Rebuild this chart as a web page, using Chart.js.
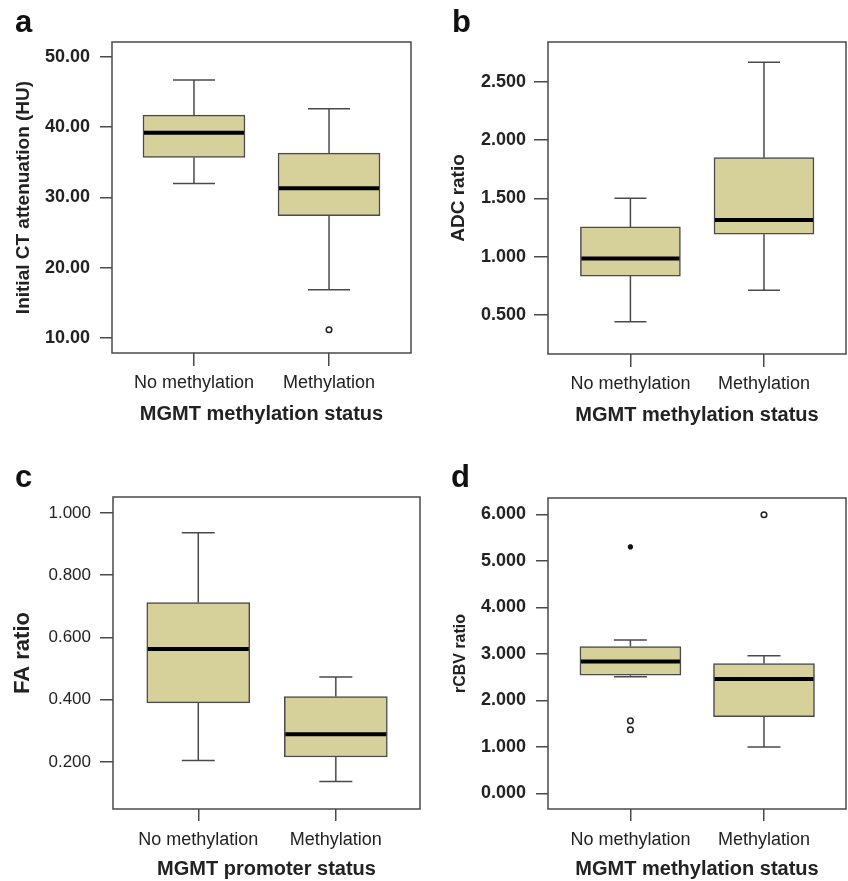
<!DOCTYPE html>
<html>
<head>
<meta charset="utf-8">
<script src="https://cdn.jsdelivr.net/npm/chart.js@4.4.1/dist/chart.umd.min.js"></script>
<style>
  body { margin: 0; background: #fff; }
  #wrap { position: relative; width: 848px; height: 881px; }
  canvas { position: absolute; }
  .tag { position: absolute; font: bold 31px "Liberation Sans", Arial, sans-serif; line-height: 32px; color: #111; }
</style>
</head>
<body>
<div id="wrap">
  <canvas id="pa" width="424" height="440" style="left:0;top:0"></canvas>
  <canvas id="pb" width="424" height="440" style="left:424px;top:0"></canvas>
  <canvas id="pc" width="424" height="441" style="left:0;top:440px"></canvas>
  <canvas id="pd" width="424" height="441" style="left:424px;top:440px"></canvas>
  <div class="tag" style="left:15px;top:6px">a</div>
  <div class="tag" style="left:452px;top:6px">b</div>
  <div class="tag" style="left:15px;top:461px">c</div>
  <div class="tag" style="left:451px;top:461px">d</div>
</div>
<script>
const categories = ['No methylation', 'Methylation']

// a - initial CT attenuation
const ctLow = [32.0, 16.9]
const ctQ1 = [35.7, 27.4]
const ctMedian = [39.2, 31.3]
const ctQ3 = [41.7, 36.3]
const ctHigh = [46.7, 42.6]
const ctOutliers = [[], [11.2]]
const ctTicks = [10, 20, 30, 40, 50]

// b - ADC ratio
const adcLow = [0.443, 0.712]
const adcQ1 = [0.834, 1.192]
const adcMedian = [0.985, 1.315]
const adcQ3 = [1.255, 1.849]
const adcHigh = [1.50, 2.666]
const adcOutliers = [[], []]
const adcTicks = [0.5, 1.0, 1.5, 2.0, 2.5]

// c - FA ratio
const faLow = [0.205, 0.137]
const faQ1 = [0.390, 0.216]
const faMedian = [0.563, 0.289]
const faQ3 = [0.712, 0.410]
const faHigh = [0.936, 0.473]
const faOutliers = [[], []]
const faTicks = [0.2, 0.4, 0.6, 0.8, 1.0]

// d - rCBV ratio
const rcbvLow = [2.51, 1.0]
const rcbvQ1 = [2.54, 1.65]
const rcbvMedian = [2.835, 2.46]
const rcbvQ3 = [3.157, 2.79]
const rcbvHigh = [3.30, 2.96]
const rcbvOutliers = [[1.56, 1.37], [5.99]]
const rcbvExtremes = [[5.30], []]
const rcbvTicks = [0, 1, 2, 3, 4, 5, 6]

const FONT = '"Liberation Sans", Arial, sans-serif'
const LINE = '#4a4a4a'

const boxPlugin = {
    id: 'boxplot',
    beforeDatasetsDraw(chart) {
        const o = chart.options.plugins.boxplot
        const ds = chart.data.datasets[0]
        const y = chart.scales.y
        const ctx = chart.ctx
        ctx.save()
        ctx.strokeStyle = LINE
        ctx.lineWidth = 1.5
        chart.getDatasetMeta(0).data.forEach((bar, i) => {
            const c = o.cap / 2
            const pts = [[ds.q3[i], ds.high[i]], [ds.q1[i], ds.low[i]]]
            pts.forEach(([from, to]) => {
                const y0 = y.getPixelForValue(from), y1 = y.getPixelForValue(to)
                ctx.beginPath()
                ctx.moveTo(bar.x, y0); ctx.lineTo(bar.x, y1)
                ctx.moveTo(bar.x - c, y1); ctx.lineTo(bar.x + c, y1)
                ctx.stroke()
            })
        })
        ctx.restore()
    },
    afterDatasetsDraw(chart) {
        const ds = chart.data.datasets[0]
        const y = chart.scales.y
        const ctx = chart.ctx
        const a = chart.chartArea
        ctx.save()
        ctx.strokeStyle = '#000'
        ctx.lineWidth = 4
        chart.getDatasetMeta(0).data.forEach((bar, i) => {
            const ym = y.getPixelForValue(ds.median[i])
            const h = bar.width / 2 - 1
            ctx.beginPath()
            ctx.moveTo(bar.x - h, ym); ctx.lineTo(bar.x + h, ym)
            ctx.stroke()
        })
        ctx.strokeStyle = LINE
        ctx.lineWidth = 1.5
        ctx.strokeRect(a.left, a.top, a.right - a.left, a.bottom - a.top)
        ctx.restore()
    }
}

function boxChart(id, s, p) {
    const points = (list) => list.flatMap((vals, i) => vals.map(v => ({x: i, y: v})))
    const datasets = [{
        type: 'bar',
        data: categories.map((c, i) => ({x: i, y: [s.q1[i], s.q3[i]]})),
        low: s.low, q1: s.q1, median: s.median, q3: s.q3, high: s.high,
        backgroundColor: '#d6d09a',
        borderColor: LINE,
        borderWidth: 1.5,
        borderSkipped: false,
        barThickness: p.box
    }, {
        type: 'scatter',
        data: points(s.outliers),
        pointStyle: 'circle',
        pointRadius: 2.8,
        borderWidth: 1.5,
        borderColor: '#222',
        backgroundColor: '#fff'
    }]
    if (s.extremes) datasets.push({
        type: 'scatter',
        data: points(s.extremes),
        pointStyle: 'star',
        pointRadius: 2.6,
        borderWidth: 2,
        borderColor: '#111',
        backgroundColor: '#111'
    })
    new Chart(document.getElementById(id), {
        type: 'bar',
        data: {datasets: datasets},
        plugins: [boxPlugin],
        options: {
            responsive: false,
            animation: false,
            devicePixelRatio: 1,
            layout: {autoPadding: false, padding: {top: p.top, right: p.right, left: 0, bottom: 0}},
            plugins: {legend: {display: false}, tooltip: {enabled: false}, boxplot: {cap: p.cap}},
            scales: {
                x: {
                    type: 'linear',
                    min: p.xMin, max: p.xMax,
                    offset: false,
                    afterFit: sc => { sc.height = p.xH },
                    afterBuildTicks: sc => { sc.ticks = categories.map((c, i) => ({value: i})) },
                    grid: {drawOnChartArea: false, offset: false, tickLength: p.xTick, color: LINE, lineWidth: 1.5},
                    border: {display: false},
                    ticks: {
                        callback: v => categories[v],
                        maxRotation: 0, autoSkip: false,
                        padding: p.xPad,
                        color: '#222',
                        font: {family: FONT, size: 18}
                    },
                    title: {
                        display: true, text: p.xTitle, color: '#222',
                        padding: {top: 0, bottom: p.xTitlePad},
                        font: {family: FONT, size: 20, weight: 'bold'}
                    }
                },
                y: {
                    min: p.yMin, max: p.yMax,
                    afterFit: sc => { sc.width = p.yW },
                    afterBuildTicks: sc => { sc.ticks = s.ticks.map(v => ({value: v})) },
                    grid: {drawOnChartArea: false, tickLength: p.yTick, color: LINE, lineWidth: 1.5},
                    border: {display: false},
                    ticks: {
                        callback: v => v.toFixed(p.dec),
                        padding: p.yPad,
                        color: '#222',
                        font: {family: FONT, size: p.tickSize, weight: p.tickWeight}
                    },
                    title: {
                        display: true, text: p.yTitle, color: '#222',
                        padding: {top: p.yTitlePad, bottom: 0},
                        font: {family: FONT, size: p.yTitleSize, weight: 'bold'}
                    }
                }
            }
        }
    })
}

boxChart('pa',
    {low: ctLow, q1: ctQ1, median: ctMedian, q3: ctQ3, high: ctHigh, outliers: ctOutliers, ticks: ctTicks},
    {top: 42, right: 13, yW: 112, xH: 87, xMin: -0.607, xMax: 1.607, yMin: 7.9, yMax: 52.1,
     box: 102, cap: 42, dec: 2, tickSize: 18, tickWeight: 'bold', yPad: 10, yTick: 12, xTick: 13, xPad: 6,
     yTitle: 'Initial CT attenuation (HU)', yTitleSize: 19, yTitlePad: 12.5,
     xTitle: 'MGMT methylation status', xTitlePad: 14})

boxChart('pb',
    {low: adcLow, q1: adcQ1, median: adcMedian, q3: adcQ3, high: adcHigh, outliers: adcOutliers, ticks: adcTicks},
    {top: 42, right: 2, yW: 124, xH: 86, xMin: -0.617, xMax: 1.614, yMin: 0.166, yMax: 2.84,
     box: 100, cap: 32, dec: 3, tickSize: 18, tickWeight: 'bold', yPad: 8, yTick: 14, xTick: 13, xPad: 6,
     yTitle: 'ADC ratio', yTitleSize: 19, yTitlePad: 23.5,
     xTitle: 'MGMT methylation status', xTitlePad: 13})

boxChart('pc',
    {low: faLow, q1: faQ1, median: faMedian, q3: faQ3, high: faHigh, outliers: faOutliers, ticks: faTicks},
    {top: 57, right: 4, yW: 113, xH: 72, xMin: -0.62, xMax: 1.612, yMin: 0.049, yMax: 1.051,
     box: 103, cap: 33, dec: 3, tickSize: 17, tickWeight: 'normal', yPad: 9, yTick: 13, xTick: 12, xPad: 8,
     yTitle: 'FA ratio', yTitleSize: 22, yTitlePad: 9.5,
     xTitle: 'MGMT promoter status', xTitlePad: 0})

boxChart('pd',
    {low: rcbvLow, q1: rcbvQ1, median: rcbvMedian, q3: rcbvQ3, high: rcbvHigh, outliers: rcbvOutliers,
     extremes: rcbvExtremes, ticks: rcbvTicks},
    {top: 58, right: 2, yW: 124, xH: 72, xMin: -0.617, xMax: 1.614, yMin: -0.335, yMax: 6.35,
     box: 101, cap: 33, dec: 3, tickSize: 18, tickWeight: 'bold', yPad: 10, yTick: 12, xTick: 12, xPad: 8,
     yTitle: 'rCBV ratio', yTitleSize: 16, yTitlePad: 27,
     xTitle: 'MGMT methylation status', xTitlePad: 0})
</script>
</body>
</html>
